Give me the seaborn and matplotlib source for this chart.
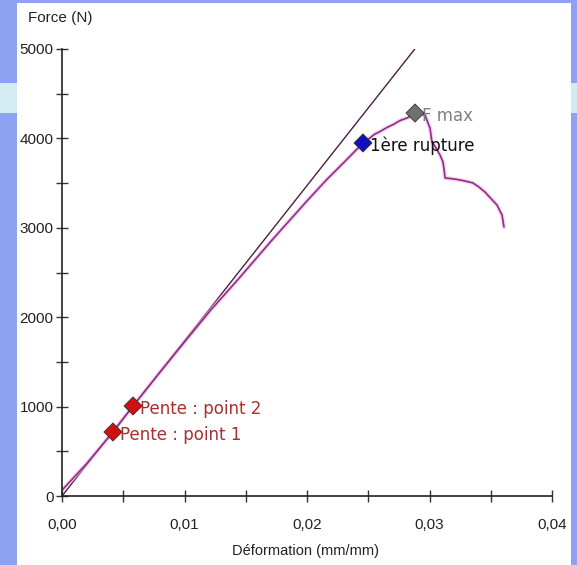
import pandas as pd
import matplotlib
matplotlib.use("Agg")
import matplotlib.pyplot as plt
from matplotlib.patches import Rectangle
import seaborn as sns

# strain (mm/mm) and force (N) of the test curve
strain = [0.0, 0.0020, 0.00416, 0.0058, 0.0080, 0.01013, 0.01214, 0.01287, 0.01433,
          0.01574, 0.01715, 0.01856, 0.01993, 0.02158, 0.02315, 0.02457, 0.0250,
          0.0255, 0.0260, 0.0265, 0.0271, 0.0276, 0.0282, 0.02882,
          0.0292, 0.02963, 0.0298, 0.03004, 0.03020, 0.0305, 0.03086, 0.03110,
          0.03120, 0.03127, 0.0318, 0.03249, 0.0330, 0.03355, 0.0340, 0.03453,
          0.0350, 0.03551, 0.03592, 0.03608]
force = [65, 360, 716, 1007, 1385, 1745, 2080, 2192, 2416,
         2640, 2864, 3080, 3290, 3535, 3750, 3949, 3990,
         4045, 4080, 4120, 4160, 4200, 4230, 4284,
         4270, 4262, 4200, 4116, 3960, 3900, 3814, 3736,
         3640, 3557, 3550, 3535, 3520, 3501, 3460, 3400,
         3330, 3255, 3143, 3009]

# reference slope line
slope_strain = [0.0, 0.0288]
slope_force = [0, 5000]

# marked points
pt_labels = ["Pente : point 1", "Pente : point 2", "1ère rupture", "F max"]
pt_strain = [0.00416, 0.0058, 0.02457, 0.02882]
pt_force = [716, 1007, 3949, 4284]
pt_colors = ["#d01010", "#d01010", "#1010c0", "#707070"]
pt_text_colors = ["#a83030", "#a83030", "#111111", "#808080"]

xticks = [0.0, 0.01, 0.02, 0.03, 0.04]
xtick_labels = ["0,00", "0,01", "0,02", "0,03", "0,04"]
yticks = [0, 1000, 2000, 3000, 4000, 5000]
ytick_labels = ["0", "1000", "2000", "3000", "4000", "5000"]

sns.set_style("white")
plt.rcParams['font.family'] = ['Liberation Sans', 'DejaVu Sans']

fig = plt.figure(figsize=(5.77, 5.65), dpi=100)
fig.patch.set_facecolor("#8ea2f3")
fig.patches.append(Rectangle((0, 1 - 113 / 565), 1, 30 / 565, transform=fig.transFigure,
                             facecolor="#d3ecf2", edgecolor="none", zorder=-20))
fig.patches.append(Rectangle((17 / 577, 0), (571 - 17) / 577, 1 - 3 / 565,
                             transform=fig.transFigure, facecolor="white",
                             edgecolor="none", zorder=-10))

ax = fig.add_axes([62 / 577, 1 - 496 / 565, (552 - 62) / 577, (496 - 49) / 565])
ax.set_facecolor("none")
ax.set_zorder(5)

df = pd.DataFrame({"strain": strain, "force": force})
line_df = pd.DataFrame({"strain": slope_strain, "force": slope_force})
pts = pd.DataFrame({"strain": pt_strain, "force": pt_force, "label": pt_labels})

sns.lineplot(data=line_df, x="strain", y="force", ax=ax, color="#4a2040",
             linewidth=1.0, sort=False, estimator=None)
sns.lineplot(data=df, x="strain", y="force", ax=ax, color="#f2b8e6",
             linewidth=3.0, sort=False, estimator=None, alpha=0.6)
sns.lineplot(data=df, x="strain", y="force", ax=ax, color="#8e2f86",
             linewidth=1.2, sort=False, estimator=None)
sns.scatterplot(data=pts, x="strain", y="force", hue="label", palette=pt_colors,
                marker="D", s=85, edgecolor="#333333", linewidth=0.6,
                legend=False, ax=ax, zorder=5)

for s, f, lab, c in zip(pt_strain, pt_force, pt_labels, pt_text_colors):
    ax.text(s + 0.00055, f - 30, lab, color=c, fontsize=12, va="center", ha="left",
            family=["DejaVu Sans"])

ax.set_xlim(0, 0.04)
ax.set_ylim(0, 5000)
ax.set_xticks(xticks)
ax.set_xticklabels(xtick_labels)
ax.set_yticks(yticks)
ax.set_yticklabels(ytick_labels)
ax.set_xticks([0.005, 0.015, 0.025, 0.035], minor=True)
ax.set_yticks([500, 1500, 2500, 3500, 4500], minor=True)
ax.tick_params(which="both", direction="inout", color="#333333", width=1.0,
               length=8, bottom=True, left=True, labelsize=11, labelcolor="#222222")
ax.tick_params(axis="y", which="major", pad=2)
ax.tick_params(axis="x", which="major", pad=12)

for side in ["top", "right"]:
    ax.spines[side].set_visible(False)
for side in ["left", "bottom"]:
    ax.spines[side].set_color("#222222")
    ax.spines[side].set_linewidth(1.2)

ax.set_xlabel("")
ax.set_ylabel("")
fig.text(305 / 577, 1 - 551 / 565, "Déformation (mm/mm)", ha="center", va="center",
         fontsize=10.5, color="#222222")
fig.text(28 / 577, 1 - 18 / 565, "Force (N)", ha="left", va="center",
         fontsize=11, color="#222222")

fig.savefig("out.png", dpi=100)
